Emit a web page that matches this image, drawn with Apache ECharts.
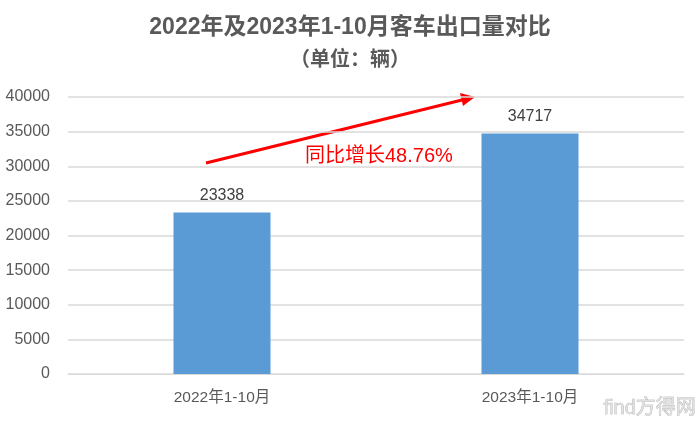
<!DOCTYPE html>
<html>
<head>
<meta charset="utf-8">
<script src="https://cdn.jsdelivr.net/npm/echarts@6/dist/echarts.min.js"></script>
<style>html,body{margin:0;padding:0;background:#fff}#c{width:700px;height:425px}</style>
</head>
<body>
<div id="c"></div>
<script>
const categories = ['2022年1-10月', '2023年1-10月'];
const exportValues = [23338, 34717];
const yTicks = { min: 0, max: 40000, interval: 5000 };
const titleText = '2022年及2023年1-10月客车出口量对比';
const subtitleText = '（单位：辆）';
const growthText = '同比增长48.76%';

const chart = echarts.init(document.getElementById('c'));
const font = '"Liberation Sans", "Noto Sans CJK SC", sans-serif';
chart.setOption({
  animation: false,
  backgroundColor: '#fff',
  textStyle: { fontFamily: font },
  title: {
    text: titleText,
    subtext: subtitleText,
    left: 'center',
    top: 11,
    itemGap: 11,
    textStyle: { fontSize: 23, fontWeight: 'bold', color: '#595959', fontFamily: font },
    subtextStyle: { fontSize: 20, fontWeight: 'bold', color: '#595959', fontFamily: font }
  },
  grid: { left: 68, right: 16, top: 97, bottom: 51 },
  xAxis: {
    type: 'category',
    data: categories,
    axisLine: { lineStyle: { color: '#d9d9d9', width: 1 } },
    axisTick: { show: false },
    axisLabel: { color: '#595959', fontSize: 15.5, margin: 16, fontFamily: font }
  },
  yAxis: {
    type: 'value',
    min: yTicks.min, max: yTicks.max, interval: yTicks.interval,
    axisLine: { show: false },
    axisTick: { show: false },
    splitLine: { lineStyle: { color: '#d9d9d9', width: 1.5 } },
    axisLabel: { color: '#595959', fontSize: 16, margin: 18, fontFamily: font, formatter: v => String(v) }
  },
  series: [{
    type: 'bar',
    data: exportValues,
    barWidth: 97,
    itemStyle: { color: '#5B9BD5' },
    label: { show: true, position: 'top', distance: 9, color: '#404040', fontSize: 16, fontFamily: font }
  }],
  graphic: [
    { type: 'line', shape: { x1: 206, y1: 163, x2: 462, y2: 100 }, style: { stroke: '#FF0000', lineWidth: 3 } },
    { type: 'polygon', shape: { points: [[475, 97], [460, 93], [463, 106]] }, style: { fill: '#FF0000' } },
    { type: 'text', left: 305, top: 146, style: { text: growthText, fill: '#FF0000', fontSize: 20, fontFamily: font } },
    { type: 'text', right: 4, bottom: 6, style: { text: 'find方得网', fill: '#e0e0e0', stroke: '#9a9a9a', lineWidth: 0.5, fontSize: 20, fontFamily: font } }
  ]
});
</script>
</body>
</html>
